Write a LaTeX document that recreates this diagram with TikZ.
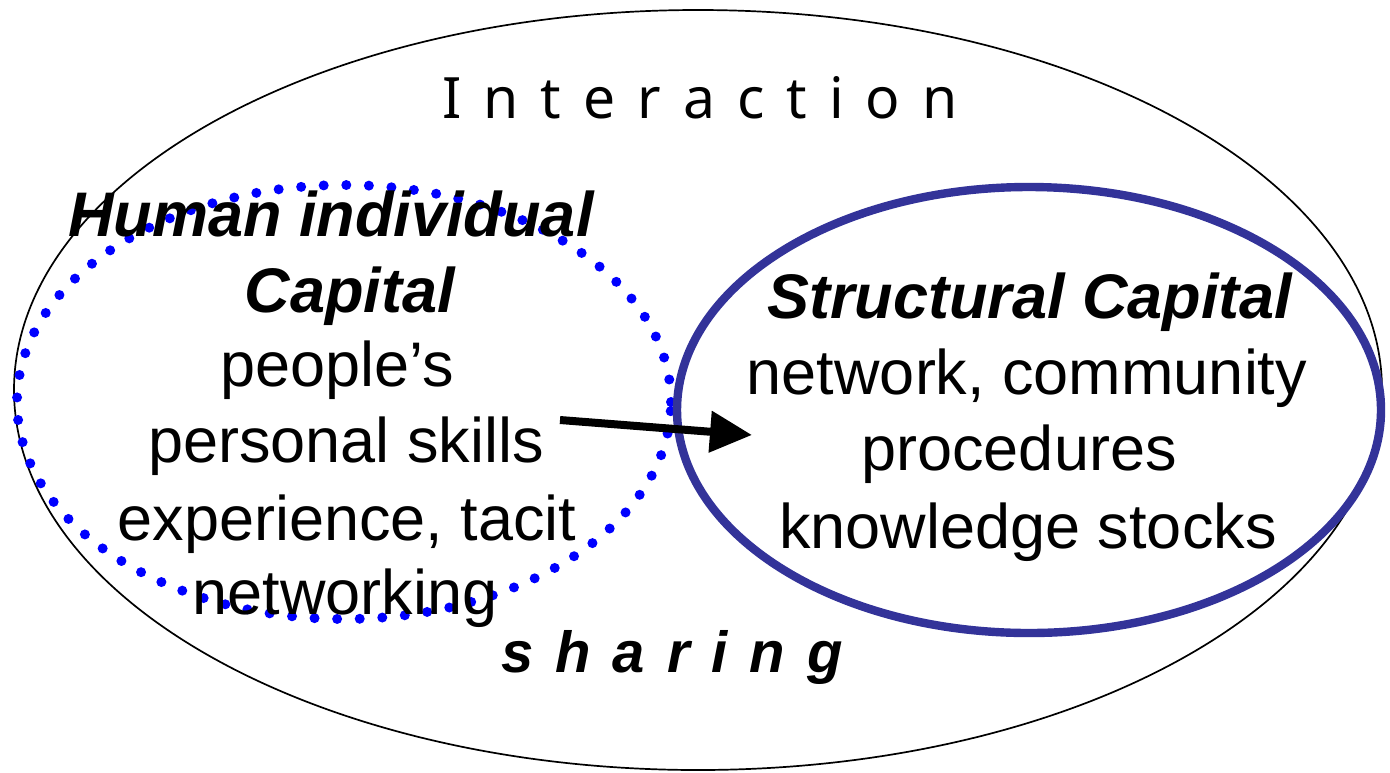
\documentclass[tikz,border=0pt]{standalone}
\usepackage{fontspec}
\setmainfont{Liberation Sans}
\newfontfamily\titlefont{Noto Sans}
\usetikzlibrary{shapes.geometric,arrows.meta}
\definecolor{capblue}{RGB}{51,51,153}
\definecolor{dotblue}{RGB}{0,0,255}
\newcommand\ls{\hspace{11pt}}
\begin{document}
\begin{tikzpicture}[x=0.5pt,y=-0.5pt,
  oval/.style={ellipse,inner sep=0pt,outer sep=0pt},
  body/.style={anchor=base,inner sep=0pt,font=\fontsize{31.5}{38}\selectfont},
  head/.style={anchor=base,inner sep=0pt,font=\fontsize{31.5}{38}\selectfont\bfseries\itshape},
  spread/.style={anchor=base,inner sep=0pt,font=\fontsize{29}{35}\selectfont\bfseries\itshape},
]
\useasboundingbox (0,0) rectangle (1390,772);

% outer interaction field
\node[oval,draw=black,line width=0.85pt,minimum width=684pt,minimum height=380pt] (outer) at (698,390) {};
% human capital (dotted)
\node[oval,draw=dotblue,line width=5pt,line cap=round,dash pattern=on 0pt off 11.3pt,
      minimum width=327pt,minimum height=217pt] (human) at (344,402) {};
% structural capital
\node[oval,draw=capblue,line width=4.2pt,minimum width=352pt,minimum height=223pt] (struct) at (1029,410) {};

% headings and labels
\node[anchor=base,inner sep=0pt,font=\titlefont\fontsize{28.5}{34}\selectfont] (inter) at (700,118)
  {I\ls n\ls t\ls e\ls r\ls a\ls c\ls t\ls i\ls o\ls n};
\node[spread] (share) at (672,672) {s\ls h\ls a\ls r\ls i\ls n\ls g};

\node[head] (h1) at (331,236) {Human individual};
\node[head] (h2) at (350,312) {Capital};
\node[body] (h3) at (337,386) {people’s};
\node[body] (h4) at (346,462) {personal skills};
\node[body] (h5) at (347,540) {experience, tacit};
\node[body] (h6) at (345,614) {networking};

\node[head] (s1) at (1030,318) {Structural Capital};
\node[body] (s2) at (1027,394) {network, community};
\node[body] (s3) at (1019,470) {procedures};
\node[body] (s4) at (1028,548) {knowledge stocks};

% flow from human to structural capital
\coordinate (flowstart) at (560,420);
\coordinate (flowend) at (752,435);
\draw[line width=4pt,-{Triangle[length=21pt,width=20pt]}] (flowstart) -- (flowend);
\end{tikzpicture}
\end{document}
